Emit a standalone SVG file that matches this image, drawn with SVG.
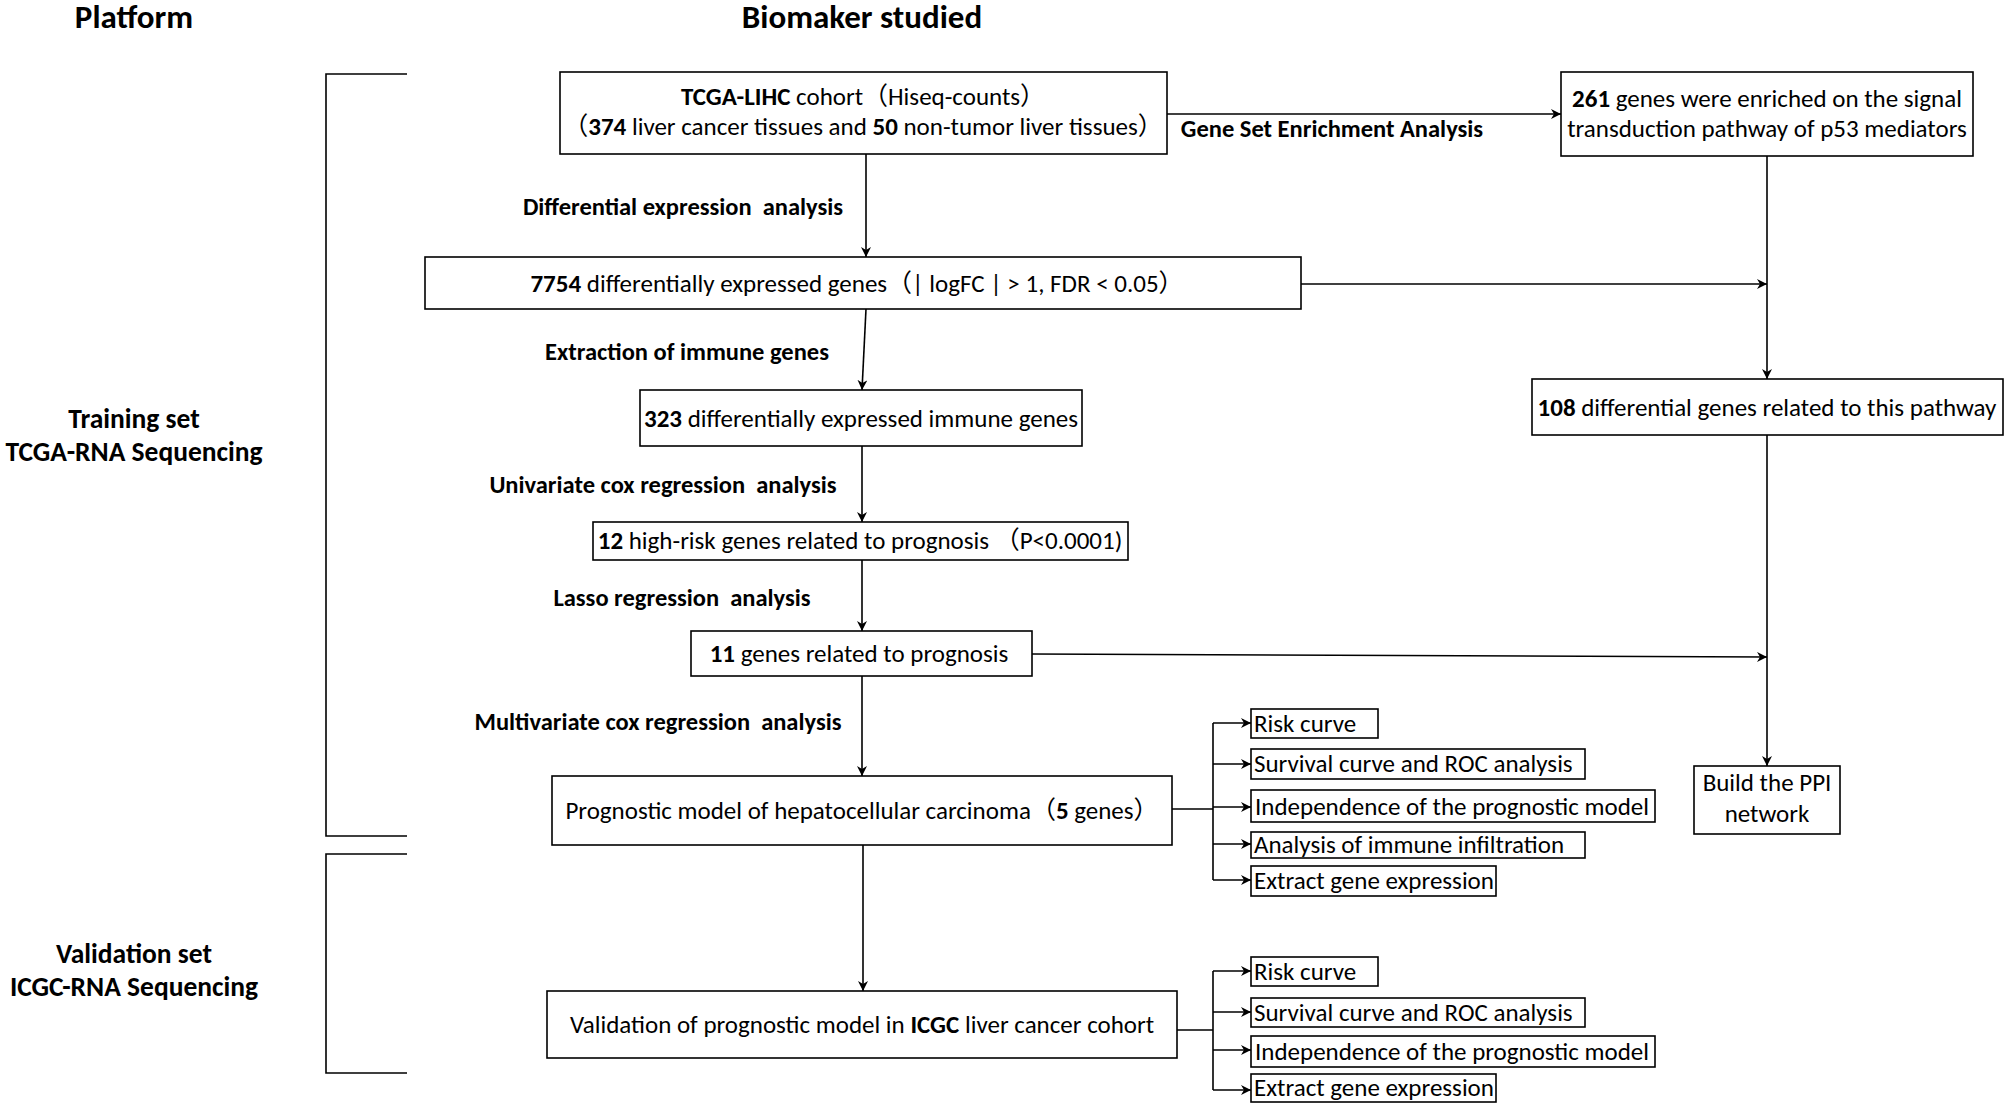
<svg xmlns="http://www.w3.org/2000/svg" width="2008" height="1104" viewBox="0 0 2008 1104">
<defs>
<marker id="ah" viewBox="0 0 10 10" refX="10" refY="5" markerWidth="10" markerHeight="10" markerUnits="userSpaceOnUse" orient="auto">
<path d="M0,0 L10,5 L0,10 L3,5 z" fill="#000"/>
</marker>
<style>
text{font-family:Carlito,Lato,"Liberation Sans","Noto Sans CJK SC",sans-serif;fill:#000;white-space:pre}
.t{font-size:25px}
.c{text-anchor:middle}
.b{font-weight:bold}
.h{font-size:33px;font-weight:bold;text-anchor:middle}
.lab{font-size:24.5px;font-weight:bold}
.side{font-size:27.5px;font-weight:bold;text-anchor:middle}
.box{fill:#fff;stroke:#000;stroke-width:1.6}
.ln{fill:none;stroke:#000;stroke-width:1.6}
.ar{fill:none;stroke:#000;stroke-width:1.6;marker-end:url(#ah)}
</style>
</defs>
<rect width="2008" height="1104" fill="#fff"/>

<g id="headers">
<text class="h" x="134" y="28">Platform</text>
<text class="h" x="862" y="28">Biomaker studied</text>
</g>

<g id="platform">
<path class="ln" d="M407,74 H326 V836 H407"/>
<path class="ln" d="M407,854 H326 V1073 H407"/>
<text class="side" x="134" y="428">Training set</text>
<text class="side" x="134" y="461">TCGA-RNA Sequencing</text>
<text class="side" x="134" y="963">Validation set</text>
<text class="side" x="134" y="996">ICGC-RNA Sequencing</text>
</g>

<g id="connectors">
<line class="ar" x1="1167" y1="114" x2="1561" y2="114"/>
<line class="ar" x1="866" y1="154" x2="866" y2="257"/>
<line class="ar" x1="1301" y1="284" x2="1767" y2="284"/>
<line class="ar" x1="866" y1="309" x2="862" y2="390"/>
<line class="ar" x1="862" y1="446" x2="862" y2="522"/>
<line class="ar" x1="862" y1="560" x2="862" y2="631"/>
<line class="ar" x1="1032" y1="654" x2="1767" y2="657"/>
<line class="ar" x1="862" y1="676" x2="862" y2="776"/>
<line class="ar" x1="863" y1="845" x2="863" y2="991"/>
<line class="ar" x1="1767" y1="156" x2="1767" y2="379"/>
<line class="ar" x1="1767" y1="435" x2="1767" y2="766"/>
<path class="ln" d="M1172,809 H1213 M1213,723 V880"/>
<line class="ar" x1="1213" y1="723" x2="1251" y2="723"/>
<line class="ar" x1="1213" y1="764" x2="1251" y2="764"/>
<line class="ar" x1="1213" y1="807" x2="1251" y2="807"/>
<line class="ar" x1="1213" y1="844" x2="1251" y2="844"/>
<line class="ar" x1="1213" y1="880" x2="1251" y2="880"/>
<path class="ln" d="M1177,1030 H1213 M1213,971 V1090"/>
<line class="ar" x1="1213" y1="971" x2="1251" y2="971"/>
<line class="ar" x1="1213" y1="1012" x2="1251" y2="1012"/>
<line class="ar" x1="1213" y1="1050" x2="1251" y2="1050"/>
<line class="ar" x1="1213" y1="1090" x2="1251" y2="1090"/>
<text class="lab c" x="1332" y="137">Gene Set Enrichment Analysis</text>
<text class="lab c" x="683" y="215">Differential expression  analysis</text>
<text class="lab c" x="687" y="360">Extraction of immune genes</text>
<text class="lab c" x="663" y="493">Univariate cox regression  analysis</text>
<text class="lab c" x="682" y="606">Lasso regression  analysis</text>
<text class="lab c" x="658" y="730">Multivariate cox regression  analysis</text>
</g>

<g id="n-tcga">
<rect class="box" x="560" y="72" width="607" height="82"/>
<text class="t c" x="863" y="105"><tspan class="b">TCGA-LIHC</tspan> cohort（Hiseq-counts）</text>
<text class="t c" x="863" y="135">（<tspan class="b">374</tspan> liver cancer tissues and <tspan class="b">50</tspan> non-tumor liver tissues）</text>
</g>

<g id="n-261">
<rect class="box" x="1561" y="72" width="412" height="84"/>
<text class="t c" x="1767" y="107"><tspan class="b">261</tspan> genes were enriched on the signal</text>
<text class="t c" x="1767" y="137">transduction pathway of p53 mediators</text>
</g>

<g id="n-7754">
<rect class="box" x="425" y="257" width="876" height="52"/>
<text class="t c" x="857" y="292"><tspan class="b">7754</tspan> differentially expressed genes（| logFC | &gt; 1, FDR &lt; 0.05）</text>
</g>

<g id="n-323">
<rect class="box" x="640" y="390" width="442" height="56"/>
<text class="t c" x="861" y="427"><tspan class="b">323</tspan> differentially expressed immune genes</text>
</g>

<g id="n-12">
<rect class="box" x="593" y="522" width="535" height="38"/>
<text class="t c" x="860" y="549"><tspan class="b">12</tspan> high-risk genes related to prognosis （P&lt;0.0001)</text>
</g>

<g id="n-11">
<rect class="box" x="691" y="631" width="341" height="45"/>
<text class="t c" x="859" y="662"><tspan class="b">11</tspan> genes related to prognosis</text>
</g>

<g id="n-model">
<rect class="box" x="552" y="776" width="620" height="69"/>
<text class="t c" x="862" y="819">Prognostic model of hepatocellular carcinoma（<tspan class="b">5</tspan> genes）</text>
</g>

<g id="n-valid">
<rect class="box" x="547" y="991" width="630" height="67"/>
<text class="t c" x="862" y="1033">Validation of prognostic model in <tspan class="b">ICGC</tspan> liver cancer cohort</text>
</g>

<g id="n-108">
<rect class="box" x="1532" y="379" width="471" height="56"/>
<text class="t c" x="1767" y="416"><tspan class="b">108</tspan> differential genes related to this pathway</text>
</g>

<g id="n-ppi">
<rect class="box" x="1694" y="766" width="146" height="68"/>
<text class="t c" x="1767" y="791">Build the PPI</text>
<text class="t c" x="1767" y="822">network</text>
</g>

<g id="n-sub1">
<rect class="box" x="1251" y="709" width="127" height="29"/><text class="t" x="1254" y="732">Risk curve</text>
<rect class="box" x="1251" y="749" width="334" height="30"/><text class="t" x="1254" y="772">Survival curve and ROC analysis</text>
<rect class="box" x="1251" y="790" width="404" height="32"/><text class="t" x="1255" y="815">Independence of the prognostic model</text>
<rect class="box" x="1251" y="832" width="334" height="26"/><text class="t" x="1254" y="853">Analysis of immune infiltration</text>
<rect class="box" x="1251" y="866" width="245" height="30"/><text class="t" x="1254" y="889">Extract gene expression</text>
</g>

<g id="n-sub2">
<rect class="box" x="1251" y="957" width="127" height="29"/><text class="t" x="1254" y="980">Risk curve</text>
<rect class="box" x="1251" y="998" width="334" height="29"/><text class="t" x="1254" y="1021">Survival curve and ROC analysis</text>
<rect class="box" x="1251" y="1036" width="404" height="31"/><text class="t" x="1255" y="1060">Independence of the prognostic model</text>
<rect class="box" x="1251" y="1074" width="245" height="28"/><text class="t" x="1254" y="1096">Extract gene expression</text>
</g>
</svg>
